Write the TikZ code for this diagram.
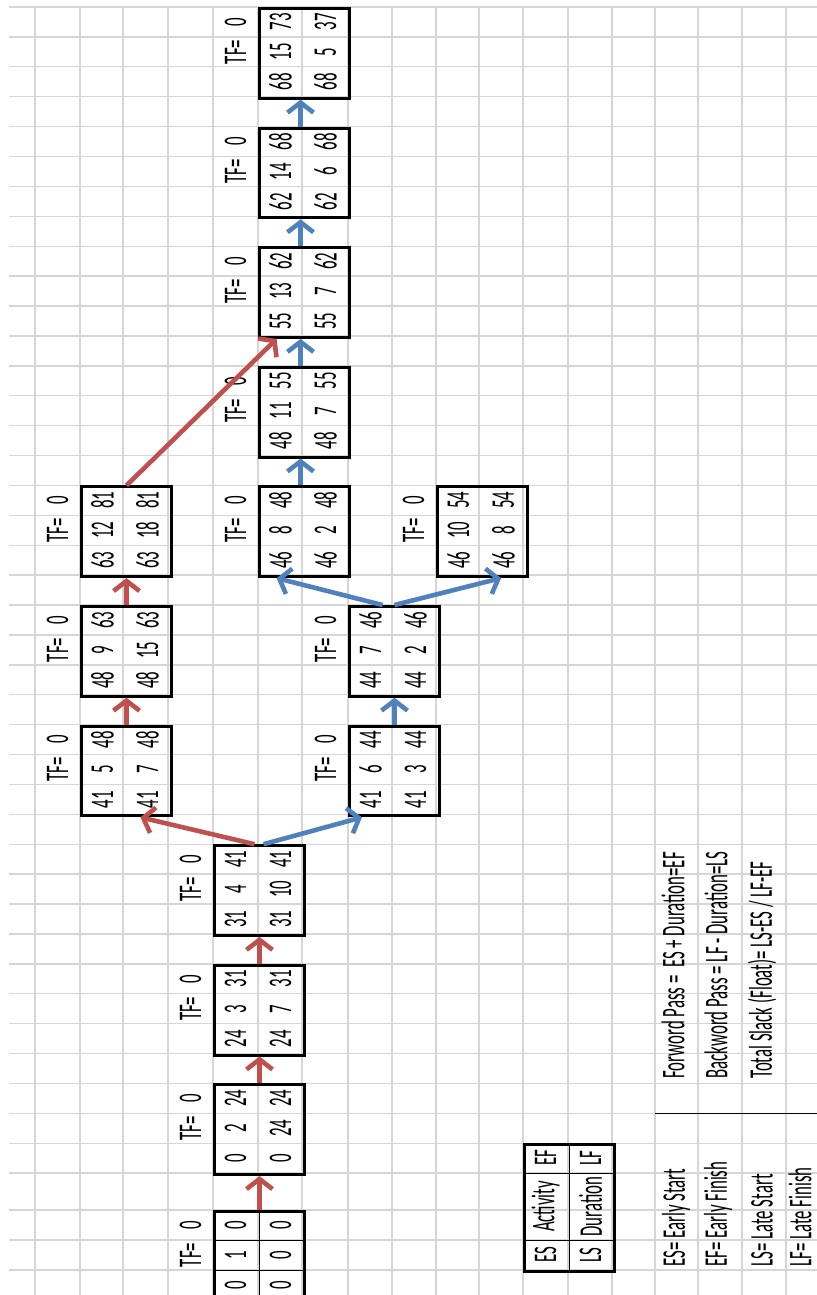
\documentclass[tikz,border=0pt]{standalone}
\usepackage{fontspec}
\setmainfont[FakeStretch=0.51]{Carlito}
\usepackage{tikz}
\usetikzlibrary{arrows.meta,calc}

\definecolor{gridgray}{RGB}{214,214,214}
\definecolor{critred}{RGB}{192,80,77}
\definecolor{pathblue}{RGB}{79,129,189}

\begin{document}
\begin{tikzpicture}[x=0.5pt,y=-0.5pt,>={Straight Barb[length=5pt,width=13pt]},
  gridline/.style={draw=gridgray,line width=0.7pt},
  txt/.style={rotate=90,inner sep=0pt,font=\fontsize{16.5}{19}\selectfont},
  actbox/.style={draw,line width=1.5pt,anchor=north west,inner sep=0pt,
                 minimum width=45pt,minimum height=44.85pt},
  critarr/.style={->,draw=critred,line width=2.3pt},
  pathsarr/.style={->,draw=pathblue,line width=2.3pt}]
\fill[white] (0,0) rectangle (817,1295);
\useasboundingbox (0,0) rectangle (817,1295);
% sheet grid
\foreach \x in {35,80,123,168,213,258,302,348,392,436,479,523,568,612,655,698,742,786}
  \draw[gridline] (\x,7) -- (\x,1295);
\foreach \k in {0,...,39}
  \draw[gridline] (9,7+29.9*\k) -- (817,7+29.9*\k);
\foreach \y in {1210,1240,1270}
  \draw[gridline] (9,\y) -- (817,\y);
% activity boxes: name/left/top/ES/activity/EF/LS/duration/LF
\foreach \n/\x/\y/\es/\ac/\ef/\ls/\du/\lf in {
    b0/213/1210/0/1/0/0/0/0, b1/213/1083.4/0/2/24/0/24/24,
    b2/213/963.8/24/3/31/24/7/31, b3/213/844.2/31/4/41/31/10/41,
    b4/80/724.6/41/5/48/41/7/48, b5/80/605/48/9/63/48/15/63,
    b6/80/485.4/63/12/81/63/18/81, b7/348/724.6/41/6/44/41/3/44,
    b8/348/605/44/7/46/44/2/46, b9/258/485.4/46/8/48/46/2/48,
    b10/436/485.4/46/10/54/46/8/54, b11/258/365.8/48/11/55/48/7/55,
    b12/258/246.2/55/13/62/55/7/62, b13/258/126.6/62/14/68/62/6/68,
    b14/258/7/68/15/73/68/5/37} {
  \node[actbox] (\n) at (\x,\y) {};
  \node[txt] (\n-es) at (\x+22.5,\y+75) {\es};
  \node[txt] (\n-ac) at (\x+22.5,\y+45) {\ac};
  \node[txt] (\n-ef) at (\x+22.5,\y+15) {\ef};
  \node[txt] (\n-ls) at (\x+67.5,\y+75) {\ls};
  \node[txt] (\n-du) at (\x+67.5,\y+45) {\du};
  \node[txt] (\n-lf) at (\x+67.5,\y+15) {\lf};
  \node[txt] (\n-tf) at (\x-22.5,\y+45) {TF=};
  \node[txt] (\n-tv) at (\x-22.5,\y+15) {0};
}
\draw (b0.north) -- (b0.south) (213,1240) -- (303,1240) (213,1270) -- (303,1270);
% arrows
\foreach \u/\v in {b0/b1,b1/b2,b2/b3,b4/b5,b5/b6}
  \draw[critarr] (\u.north) -- (\v.south);
\draw[critarr] ($(b3.north)+(-5,0)$) -- ($(b4.south)!0.3!(b4.south east)$);
\draw[critarr] (b6.north) -- ($(b12.south west)!0.2!(b12.south east)$);
\draw[pathsarr] ($(b3.north)+(4,0)$) -- ($(b7.south west)!0.15!(b7.south east)$);
\draw[pathsarr] (b7.north) -- (b8.south);
\draw[pathsarr] ($(b8.north)+(-12,0)$) -- ($(b9.south west)!0.2!(b9.south east)$);
\draw[pathsarr] (b8.north) -- ($(b10.south west)!0.7!(b10.south east)$);
\foreach \u/\v in {b9/b11,b11/b12,b12/b13,b13/b14}
  \draw[pathsarr] ($(\u.north)+(-4,0)$) -- ($(\v.south)+(-4,0)$);
% key
\node[actbox,minimum height=63.5pt] (key) at (523,1143) {};
\draw (key.north) -- (key.south) (523,1173) -- (613,1173) (523,1240) -- (613,1240);
\node[txt] (key-es) at (545.5,1255) {ES};
\node[txt] (key-ac) at (545.5,1206.5) {Activity};
\node[txt] (key-ef) at (545.5,1158) {EF};
\node[txt] (key-ls) at (590.5,1255) {LS};
\node[txt] (key-du) at (590.5,1206.5) {Duration};
\node[txt] (key-lf) at (590.5,1158) {LF};
% formulas
\node[txt,anchor=west] (fwd) at (673,1079) {Forword Pass =\ \ ES + Duration=EF};
\node[txt,anchor=west] (bwd) at (716,1079) {Backword Pass = LF - Duration=LS};
\node[txt,anchor=west] (slack) at (762,1079) {Total Slack (Float)= LS-ES / LF-EF};
\draw[line width=0.5pt] (655,1113) -- (817,1113);
\node[txt,anchor=west] (def-es) at (676,1267) {ES= Early Start};
\node[txt,anchor=west] (def-ef) at (718,1267) {EF= Early Finish};
\node[txt,anchor=west] (def-ls) at (762,1267) {LS= Late Start};
\node[txt,anchor=west] (def-lf) at (800,1267) {LF= Late Finish};
\end{tikzpicture}
\end{document}
